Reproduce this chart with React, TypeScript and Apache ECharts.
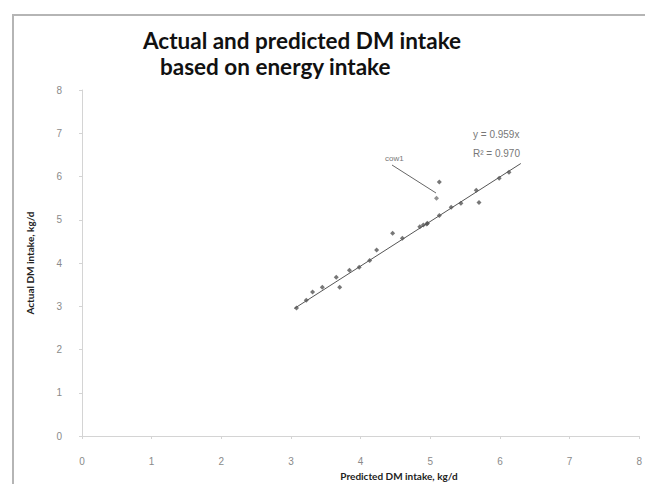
import React, { useEffect, useRef } from "react";
import * as echarts from "echarts";

const predicted = [3.08, 3.22, 3.31, 3.45, 3.7, 3.65, 3.84, 3.98, 4.13, 4.23, 4.46, 4.6, 4.85, 4.9, 4.95, 4.96, 5.13, 5.3, 5.44, 5.66, 5.7, 5.99, 6.13, 5.13];
const actual = [2.96, 3.14, 3.33, 3.44, 3.44, 3.67, 3.83, 3.9, 4.06, 4.3, 4.69, 4.57, 4.84, 4.88, 4.9, 4.92, 5.1, 5.29, 5.38, 5.68, 5.4, 5.96, 6.1, 5.87];
const labelledPoint = [5.09, 5.5];
const trendX = [3.05, 6.3];
const trendY = [2.95, 6.3];
const axisTicks = [0, 1, 2, 3, 4, 5, 6, 7, 8];
const titleLines = ["Actual and predicted DM intake", "based on energy intake"];
const equationLines = ["y = 0.959x", "R² = 0.970"];
const annotationText = "cow1";

export default function App() {
  const ref = useRef<HTMLDivElement>(null);
  useEffect(() => {
    if (!ref.current) return;
    const chart = echarts.init(ref.current, undefined, { renderer: "svg" });
    const pts = predicted.map((x, i) => [x, actual[i]]);
    const axisCommon = {
      min: axisTicks[0],
      max: axisTicks[axisTicks.length - 1],
      interval: 1,
      axisLine: { show: true, lineStyle: { color: "#d4d4d4", width: 1 } },
      axisTick: { show: true, length: 3, lineStyle: { color: "#d4d4d4" } },
      splitLine: { show: false },
      axisLabel: { color: "#8a8a8a", fontSize: 10, fontFamily: "Liberation Sans" },
    };
    chart.setOption({
      animation: false,
      backgroundColor: "#ffffff",
      grid: { left: 82, right: 5, top: 90, bottom: 48, containLabel: false },
      xAxis: { type: "value", ...axisCommon, axisLabel: { ...axisCommon.axisLabel, margin: 20 } },
      yAxis: {
        type: "value",
        ...axisCommon,
        axisLabel: { ...axisCommon.axisLabel, margin: 20 },
        name: "Actual DM intake, kg/d",
        nameLocation: "middle",
        nameGap: 47,
        nameTextStyle: { color: "#222", fontSize: 10, fontWeight: "bold", fontFamily: "Lato" },
      },
      series: [
        {
          type: "line",
          data: trendX.map((x, i) => [x, trendY[i]]),
          symbol: "none",
          lineStyle: { color: "#555", width: 1 },
          z: 2,
        },
        {
          type: "scatter",
          data: pts,
          symbol: "diamond",
          symbolSize: 5,
          itemStyle: { color: "#555" },
          z: 3,
        },
        {
          type: "scatter",
          data: [labelledPoint],
          symbol: "diamond",
          symbolSize: 5,
          itemStyle: { color: "#777" },
          z: 3,
        },
      ],
      graphic: [
        {
          type: "rect",
          shape: { x: 13, y: 15, width: 700, height: 520 },
          style: { fill: "none", stroke: "#b5b5b5", lineWidth: 2 },
          silent: true,
        },
        {
          type: "text",
          x: 143,
          y: 40,
          style: { text: titleLines[0], font: "bold 22.5px Lato", fill: "#111", textVerticalAlign: "middle" },
        },
        {
          type: "text",
          x: 160,
          y: 66,
          style: { text: titleLines[1], font: "bold 22.5px Lato", fill: "#111", textVerticalAlign: "middle" },
        },
        {
          type: "text",
          x: 399,
          y: 476,
          style: { text: "Predicted DM intake, kg/d", font: "bold 10px Lato", fill: "#222", textAlign: "center", textVerticalAlign: "middle" },
        },
        {
          type: "text",
          x: 473,
          y: 134,
          style: { text: equationLines[0], font: "10px Liberation Sans", fill: "#777", textVerticalAlign: "middle" },
        },
        {
          type: "text",
          x: 473,
          y: 153,
          style: { text: equationLines[1], font: "10px Liberation Sans", fill: "#777", textVerticalAlign: "middle" },
        },
        {
          type: "text",
          x: 385,
          y: 158,
          style: { text: annotationText, font: "8px Liberation Sans", fill: "#777", textVerticalAlign: "middle" },
        },
        {
          type: "line",
          shape: { x1: 392, y1: 165, x2: 436, y2: 193 },
          style: { stroke: "#666", lineWidth: 1 },
        },
      ],
    });
    return () => chart.dispose();
  }, []);
  return <div ref={ref} style={{ position: "fixed", left: 0, top: 0, width: 645, height: 484 }} />;
}
